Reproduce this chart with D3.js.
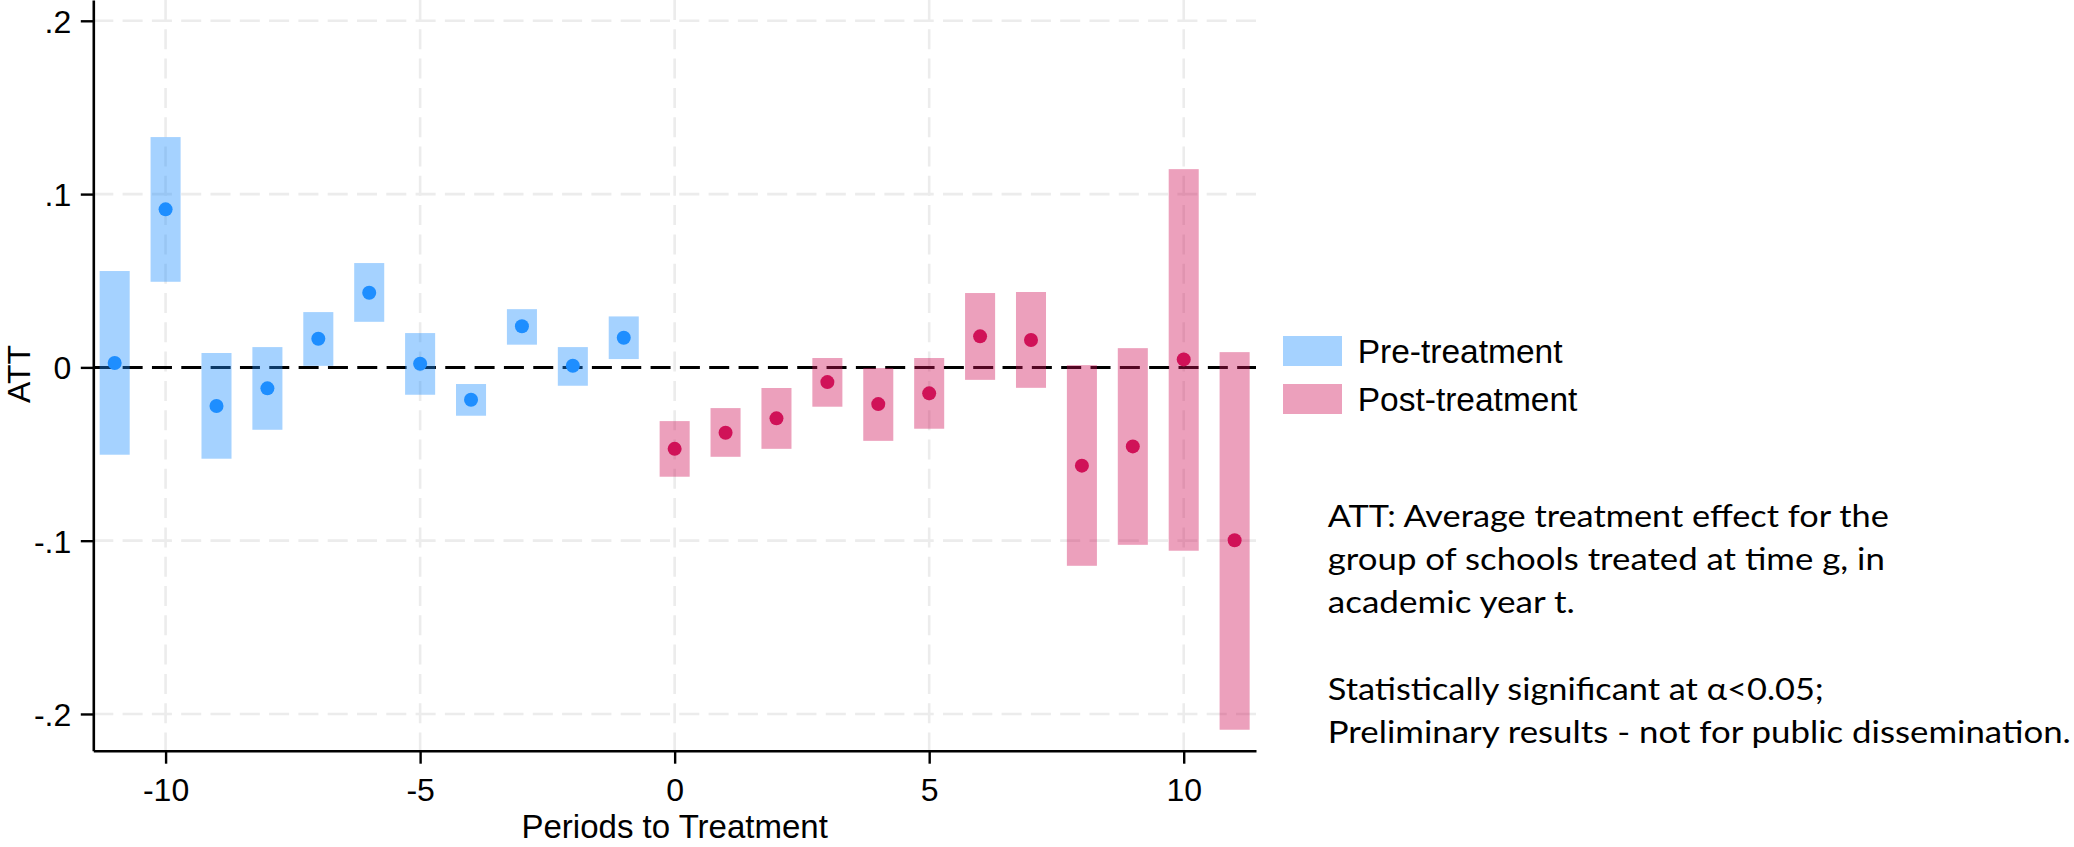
<!DOCTYPE html>
<html>
<head>
<meta charset="utf-8">
<script src="https://cdn.jsdelivr.net/npm/d3@7"></script>
<style>
  html, body { margin: 0; padding: 0; background: #ffffff; }
  svg { display: block; }
</style>
</head>
<body>
<svg id="chart" width="2074" height="847"></svg>
<script>
// ---- data ----
const periods = [-11, -10, -9, -8, -7, -6, -5, -4, -3, -2, -1,
                 0, 1, 2, 3, 4, 5, 6, 7, 8, 9, 10, 11];
const att = [0.0025, 0.0912, -0.0223, -0.0121, 0.0165, 0.0431, 0.0021, -0.0187, 0.0237, 0.0009, 0.0171,
             -0.0470, -0.0377, -0.0294, -0.0085, -0.0212, -0.0150, 0.0179, 0.0158, -0.0567, -0.0456, 0.0046, -0.0998];
const ciLow = [-0.0504, 0.0494, -0.0527, -0.0360, 0.0009, 0.0263, -0.0158, -0.0279, 0.0131, -0.0106, 0.0048,
               -0.0631, -0.0516, -0.0470, -0.0227, -0.0424, -0.0354, -0.0072, -0.0118, -0.1145, -0.1024, -0.1058, -0.2091];
const ciHigh = [0.0556, 0.1329, 0.0083, 0.0117, 0.0319, 0.0602, 0.0198, -0.0096, 0.0336, 0.0117, 0.0294,
                -0.0310, -0.0235, -0.0119, 0.0054, -0.0004, 0.0054, 0.0429, 0.0435, 0.0013, 0.0111, 0.1144, 0.0088];
const legendLabels = ["Pre-treatment", "Post-treatment"];
const yTicks = [-0.2, -0.1, 0, 0.1, 0.2];
const xTicks = [-10, -5, 0, 5, 10];
const xTitle = "Periods to Treatment";
const yTitle = "ATT";
const noteLines = [
  "ATT: Average treatment effect for the",
  "group of schools treated at time g, in",
  "academic year t.",
  "",
  "Statistically significant at \u03b1<0.05;",
  "Preliminary results - not for public dissemination."
];

// ---- style ----
const dotColor = { pre: "rgb(30,142,255)", post: "rgb(208,18,88)" };
const barOpacity = 0.4;
const axisFont = "'Liberation Sans', Arial, sans-serif";

const svg = d3.select("#chart");
svg.append("rect").attr("width", 2074).attr("height", 847).attr("fill", "#fff");

const x = d3.scaleLinear().domain([-11.42, 11.42]).range([93.3, 1256]);
const y = d3.scaleLinear().domain([-0.2212, 0.2120]).range([750.7, 0]);

const grid = svg.append("g");
// vertical gridlines
grid.selectAll("line.v").data(xTicks).join("line")
  .attr("x1", d => x(d)).attr("x2", d => x(d))
  .attr("y1", y.range()[1]).attr("y2", y.range()[0])
  .attr("stroke", "#ececec").attr("stroke-width", 2.6)
  .attr("stroke-dasharray", "20,9.3");
// horizontal gridlines (not at zero)
grid.selectAll("line.h").data(yTicks.filter(d => d !== 0)).join("line")
  .attr("x1", x.range()[0]).attr("x2", x.range()[1])
  .attr("y1", d => y(d)).attr("y2", d => y(d))
  .attr("stroke", "#ececec").attr("stroke-width", 2.6)
  .attr("stroke-dasharray", "20,9.3");

// zero reference line
svg.append("line")
  .attr("x1", x.range()[0]).attr("x2", x.range()[1])
  .attr("y1", y(0)).attr("y2", y(0))
  .attr("stroke", "#000").attr("stroke-width", 3)
  .attr("stroke-dasharray", "20,9.33");

const data = periods.map((p, i) => ({ p, est: att[i], lo: ciLow[i], hi: ciHigh[i], grp: p < 0 ? "pre" : "post" }));
const halfW = 0.295;

svg.append("g").selectAll("rect").data(data).join("rect")
  .attr("x", d => x(d.p - halfW))
  .attr("width", d => x(d.p + halfW) - x(d.p - halfW))
  .attr("y", d => y(d.hi))
  .attr("height", d => y(d.lo) - y(d.hi))
  .attr("fill", d => dotColor[d.grp])
  .attr("fill-opacity", barOpacity);

svg.append("g").selectAll("circle").data(data).join("circle")
  .attr("cx", d => x(d.p)).attr("cy", d => y(d.est)).attr("r", 7)
  .attr("fill", d => dotColor[d.grp]);

// ---- axes ----
const yAxis = svg.append("g").attr("transform", `translate(${x.range()[0]},0)`)
  .call(d3.axisLeft(y).tickValues(yTicks).tickSize(12.5).tickSizeOuter(0).tickPadding(9.5)
    .tickFormat(v => v === 0 ? "0" : (v < 0 ? "-" : "") + "." + Math.round(Math.abs(v) * 10)));
yAxis.select(".domain").attr("stroke-width", 2.6);
yAxis.selectAll(".tick line").attr("stroke-width", 2.4);
yAxis.selectAll("text").attr("font-family", axisFont).attr("font-size", 32).attr("fill", "#000")
  .attr("dy", "0.36em");

const xAxis = svg.append("g").attr("transform", `translate(0,${y.range()[0]})`)
  .call(d3.axisBottom(x).tickValues(xTicks).tickSize(13).tickSizeOuter(0).tickPadding(15)
    .tickFormat(d => String(d)));
xAxis.select(".domain").attr("stroke-width", 2.6);
xAxis.selectAll(".tick line").attr("stroke-width", 2.4);
xAxis.selectAll("text").attr("font-family", axisFont).attr("font-size", 32).attr("fill", "#000")
  .attr("dy", "0.71em");

// titles
svg.append("text").attr("x", x(0)).attr("y", 838)
  .attr("text-anchor", "middle").attr("font-family", axisFont).attr("font-size", 33)
  .text(xTitle);
svg.append("text").attr("transform", "translate(30,374) rotate(-90)")
  .attr("text-anchor", "middle").attr("font-family", axisFont).attr("font-size", 32)
  .text(yTitle);

// ---- legend ----
const legend = svg.append("g").attr("transform", "translate(1283,336)");
legendLabels.forEach((lab, i) => {
  const g = legend.append("g").attr("transform", `translate(0,${i * 48})`);
  g.append("rect").attr("width", 59).attr("height", 30)
    .attr("fill", i === 0 ? dotColor.pre : dotColor.post).attr("fill-opacity", barOpacity);
  g.append("text").attr("x", 74.7).attr("y", 27.3)
    .attr("font-family", axisFont).attr("font-size", 33.5).attr("fill", "#000").text(lab);
});

// ---- note ----
const noteWidths = [561, 557, 247, 0, 496, 743];
const note = svg.append("g");
noteLines.forEach((line, i) => {
  if (!line) return;
  note.append("text").attr("x", 1327.8).attr("y", 526.7 + i * 43.3)
    .attr("font-family", "Lato, 'Open Sans', sans-serif").attr("font-size", 30)
    .attr("fill", "#000")
    .attr("textLength", noteWidths[i]).attr("lengthAdjust", "spacingAndGlyphs")
    .text(line);
});
</script>
</body>
</html>
